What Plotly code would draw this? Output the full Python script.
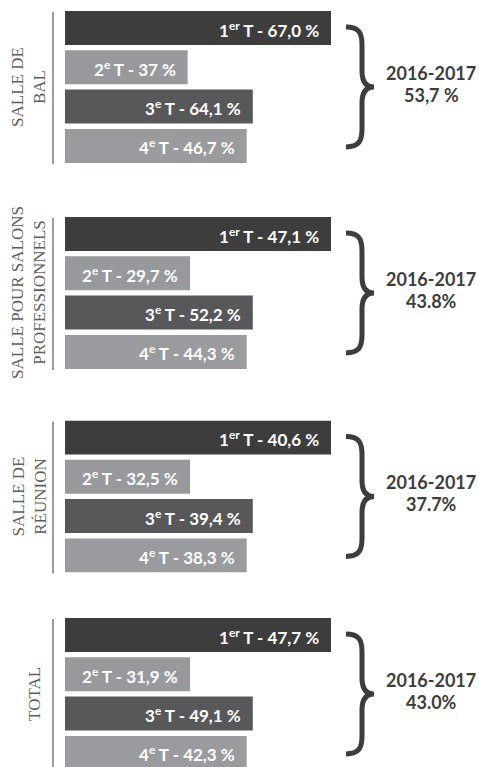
import plotly.graph_objects as go

# ---------------- data ----------------
section_labels = ["SALLE DE<br>BAL", "SALLE POUR SALONS<br>PROFESSIONNELS",
                  "SALLE DE<br>RÉUNION", "TOTAL"]
quarters = ["1er T", "2e T", "3e T", "4e T"]
quarter_tags = ["1<sup>er</sup> T", "2<sup>e</sup> T", "3<sup>e</sup> T", "4<sup>e</sup> T"]

bal_labels = ["67,0 %", "37 %", "64,1 %", "46,7 %"]
salons_labels = ["47,1 %", "29,7 %", "52,2 %", "44,3 %"]
reunion_labels = ["40,6 %", "32,5 %", "39,4 %", "38,3 %"]
total_labels = ["47,7 %", "31,9 %", "49,1 %", "42,3 %"]

# bar lengths as drawn in the picture (the bars are not proportional to the rates)
bal_lengths = [100, 46.1, 70.6, 68.3]
salons_lengths = [100, 47.0, 70.6, 68.3]
reunion_lengths = [100, 47.0, 70.6, 68.3]
total_lengths = [100, 47.0, 70.6, 68.3]

year_label = "2016-2017"
annual_labels = ["53,7 %", "43.8%", "37.7%", "43.0%"]

quarter_colors = ["#3d3d3d", "#98999c", "#58585a", "#9a9b9e"]

# ---------------- layout geometry ----------------
W, H = 479, 767
sec_tops = [11, 217, 420.5, 618]
pitch = 39.3
bar_h = 34.0
half = bar_h / pitch / 2
bar_left = 65
px_per_unit = 2.66
label_x = [29, 29, 29, 35]

all_labels = [bal_labels, salons_labels, reunion_labels, total_labels]
all_lengths = [bal_lengths, salons_lengths, reunion_lengths, total_lengths]


def px(x):
    return x / W


def py(y):
    return 1 - y / H


fig = go.Figure()
annotations = []
shapes = []

for s in range(4):
    sfx = "" if s == 0 else str(s + 1)
    top = sec_tops[s]
    full_bottom = top + 3 * pitch + bar_h
    bottom = min(full_bottom, H)
    r_bottom = -half + (bottom - top) / pitch
    center = (top + full_bottom) / 2

    fig.add_trace(go.Bar(
        x=all_lengths[s], y=quarters, orientation="h",
        width=bar_h / pitch,
        marker=dict(color=quarter_colors, line=dict(width=0)),
        xaxis="x" + sfx, yaxis="y" + sfx,
        hoverinfo="skip", showlegend=False,
    ))

    fig.layout["xaxis" + sfx] = dict(
        domain=[px(bar_left), 1], range=[0, (W - bar_left) / px_per_unit],
        visible=False, anchor="y" + sfx, fixedrange=True)
    fig.layout["yaxis" + sfx] = dict(
        domain=[py(bottom), py(top)], range=[r_bottom, -half],
        visible=False, anchor="x" + sfx, type="category", fixedrange=True)

    # bar value labels
    for i in range(4):
        annotations.append(dict(
            xref="x" + sfx, yref="y" + sfx, x=all_lengths[s][i], y=i,
            text=f"{quarter_tags[i]} - {all_labels[s][i]}",
            xanchor="right", yanchor="middle", xshift=-10, yshift=-1,
            showarrow=False,
            font=dict(family="Lato", size=17, color="white", weight=700)))

    # vertical separator line
    shapes.append(dict(type="line", xref="paper", yref="paper",
                       x0=px(53), x1=px(53), y0=py(top + 1), y1=py(min(full_bottom + 1, H)),
                       line=dict(color="#9b9b9b", width=2)))

    # rotated section label
    annotations.append(dict(
        xref="paper", yref="paper", x=px(label_x[s]), y=py(center),
        text=section_labels[s], textangle=-90, showarrow=False,
        xanchor="center", yanchor="middle",
        font=dict(family="Liberation Serif", size=17, color="#5e5e5e")))

    # brace
    bt, bb, bm = top + 16, full_bottom - 16, center
    xl, xs, xt = 346, 362, 374
    path = (f"M {px(xl)},{py(bt)} "
            f"C {px(xs - 3)},{py(bt)} {px(xs)},{py(bt + 6)} {px(xs)},{py(bt + 18)} "
            f"L {px(xs)},{py(bm - 16)} "
            f"C {px(xs)},{py(bm - 5)} {px(xs + 4)},{py(bm)} {px(xt)},{py(bm)} "
            f"C {px(xs + 4)},{py(bm)} {px(xs)},{py(bm + 5)} {px(xs)},{py(bm + 16)} "
            f"L {px(xs)},{py(bb - 18)} "
            f"C {px(xs)},{py(bb - 6)} {px(xs - 3)},{py(bb)} {px(xl)},{py(bb)}")
    shapes.append(dict(type="path", xref="paper", yref="paper", path=path,
                       line=dict(color="#3d3d3d", width=5)))

    # annual figure
    annotations.append(dict(
        xref="paper", yref="paper", x=px(431), y=py(center - 14),
        text=year_label, showarrow=False, xanchor="center", yanchor="middle",
        font=dict(family="Lato", size=18, color="#3d3d3d", weight=700)))
    annotations.append(dict(
        xref="paper", yref="paper", x=px(431), y=py(center + 8),
        text=annual_labels[s], showarrow=False, xanchor="center", yanchor="middle",
        font=dict(family="Lato", size=18, color="#3d3d3d", weight=700)))

fig.update_layout(
    width=W, height=H,
    margin=dict(l=0, r=0, t=0, b=0, pad=0),
    paper_bgcolor="white", plot_bgcolor="white",
    annotations=annotations, shapes=shapes,
    showlegend=False,
)

fig.write_html("out.html", config={"displayModeBar": False},
               post_script="document.body.style.margin='0';"
                           "document.body.style.padding='0';"
                           "document.body.style.overflow='hidden';")
